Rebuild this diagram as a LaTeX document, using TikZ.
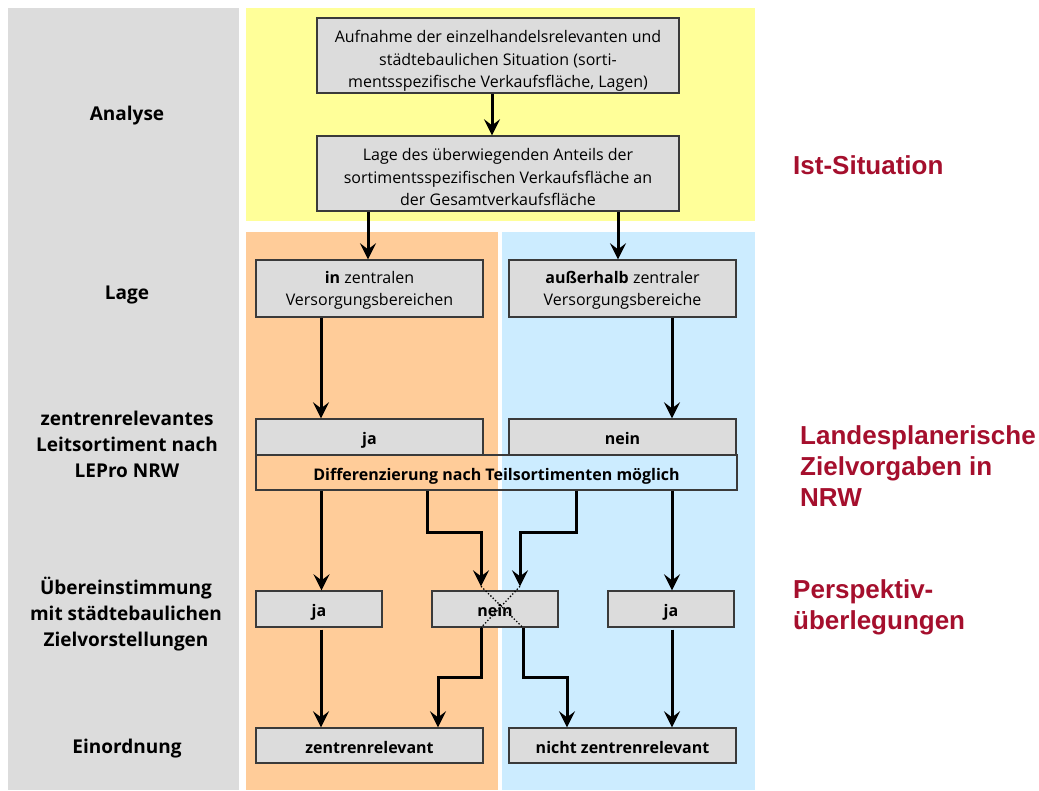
\documentclass[tikz,border=0pt]{standalone}
\usepackage{fontspec}
\setmainfont{Open Sans}
\newfontfamily\redfont{Liberation Sans}
\usetikzlibrary{arrows.meta}
\definecolor{panelgray}{HTML}{DCDCDC}
\definecolor{panelyellow}{HTML}{FFFF99}
\definecolor{panelorange}{HTML}{FFCC99}
\definecolor{panelblue}{HTML}{CCECFF}
\definecolor{boxfill}{HTML}{DCDCDC}
\definecolor{boxline}{HTML}{3A3A3A}
\definecolor{darkred}{HTML}{A50F2D}
\newcommand\boxlines[1]{\begin{tabular}[t]{@{}c@{}}#1\end{tabular}}
\tikzset{
  flowbox/.style={draw=boxline, line width=1.4pt, fill=boxfill, inner sep=0pt,
    font=\fontsize{16}{22.5}\selectfont},
  oneline/.style={text height=15pt, text depth=0pt},
  threelines/.style={text height=15.75pt, text depth=41.35pt},
  twolines/.style={text height=15.75pt, text depth=26.15pt},
  arr/.style={line width=3pt, -{Stealth[length=16pt,width=16pt,inset=6pt]}},
  rowlabel/.style={align=center, font=\fontsize{19}{26}\selectfont\bfseries},
  redlabel/.style={align=left, text=darkred, font=\fontsize{26}{31}\selectfont\redfont\bfseries, inner sep=0pt},
  crossline/.style={line width=1.3pt, dotted, black}
}
\begin{document}
\begin{tikzpicture}[x=1pt,y=-1pt]
\useasboundingbox (0,0) rectangle (1039,790);
% panels
\fill[panelgray] (8,8) rectangle (239,790);
\fill[panelyellow] (246,8) rectangle (755,221);
\fill[panelorange] (246,232) rectangle (498,790);
\fill[panelblue] (502,232) rectangle (755,790);
% row labels
\node[rowlabel] (lAnalyse) at (127,116) {Analyse};
\node[rowlabel] (lLage) at (127,295) {Lage};
\node[rowlabel] (lLeit) at (127,444) {zentrenrelevantes\\Leitsortiment nach\\LEPro NRW};
\node[rowlabel] (lUeber) at (126,614) {Übereinstimmung\\mit städtebaulichen\\Zielvorstellungen};
\node[rowlabel] (lEin) at (127,749) {Einordnung};
% red labels
\node[redlabel, anchor=west] (rIst) at (793,165) {Ist-Situation};
\node[redlabel, anchor=west] (rLand) at (800,466) {Landesplanerische\\Zielvorgaben in\\NRW};
\node[redlabel, anchor=west] (rPersp) at (793,607) {Perspektiv-\\überlegungen};
% boxes
\node[flowbox, threelines, minimum width=362, minimum height=75] (box1) at (498,55.5)
  {\boxlines{Aufnahme der einzelhandelsrelevanten und\\städtebaulichen Situation (sorti-\\mentsspezifische Verkaufsfläche, Lagen)}};
\node[flowbox, threelines, minimum width=362, minimum height=75] (box2) at (498,173.5)
  {\boxlines{Lage des überwiegenden Anteils der\\sortimentsspezifischen Verkaufsfläche an\\der Gesamtverkaufsfläche}};
\node[flowbox, twolines, minimum width=227, minimum height=57] (inbox) at (369.5,288.5)
  {\boxlines{\textbf{in} zentralen\\Versorgungsbereichen}};
\node[flowbox, twolines, minimum width=227, minimum height=57] (ausbox) at (622.5,288.5)
  {\boxlines{\textbf{außerhalb} zentraler\\Versorgungsbereiche}};
\node[flowbox, oneline, minimum width=227, minimum height=36] (ja1) at (369.5,437) {\bfseries ja};
\node[flowbox, oneline, minimum width=227, minimum height=36] (nein1) at (622.5,437) {\bfseries nein};
\node[flowbox, oneline, fill=none, minimum width=481, minimum height=35] (diff) at (496.5,472.5)
  {\bfseries Differenzierung nach Teilsortimenten möglich};
\node[flowbox, oneline, minimum width=126, minimum height=36] (ja2) at (319,609) {\bfseries ja};
\node[flowbox, oneline, minimum width=126, minimum height=36] (nein2) at (495,609) {\bfseries nein};
\node[flowbox, oneline, minimum width=126, minimum height=36] (ja3) at (671,609) {\bfseries ja};
\node[flowbox, oneline, minimum width=227, minimum height=35] (zr) at (369.5,745.5) {\bfseries zentrenrelevant};
\node[flowbox, oneline, minimum width=227, minimum height=35] (nzr) at (622.5,745.5) {\bfseries nicht zentrenrelevant};
% connectors
\draw[arr] ([xshift=-6]box1.south) -- ([xshift=-6]box2.north);
\draw[arr] ([xshift=-1.5]inbox.north |- box2.south) -- ([xshift=-1.5]inbox.north);
\draw[arr] ([xshift=-4.5]ausbox.north |- box2.south) -- ([xshift=-4.5]ausbox.north);
\draw[arr] ([xshift=-48.5]inbox.south) -- ([xshift=-48.5]ja1.north);
\draw[arr] ([xshift=49.5]ausbox.south) -- ([xshift=49.5]nein1.north);
\draw[arr] ([xshift=2.5]ja2.north |- diff.south) -- ([xshift=2.5]ja2.north);
\draw[arr] ([xshift=1]ja3.north |- diff.south) -- ([xshift=1]ja3.north);
\draw[arr] ([xshift=-69.5]diff.south) -- ++(0,42) -| ([xshift=-14,yshift=4]nein2.north);
\draw[arr] ([xshift=79.5]diff.south) -- ++(0,42) -| ([xshift=25,yshift=4]nein2.north);
\draw[crossline] ([xshift=-14,yshift=4]nein2.north) -- ([xshift=28]nein2.south);
\draw[crossline] ([xshift=25,yshift=4]nein2.north) -- ([xshift=-14]nein2.south);
\draw[arr] ([xshift=-14]nein2.south) -- ++(0,50) -| ([xshift=68.5]zr.north);
\draw[arr] ([xshift=28]nein2.south) -- ++(0,50) -| ([xshift=-55.5]nzr.north);
\draw[arr] ([xshift=2,yshift=-2]ja2.south) -- ([xshift=2]ja2.south |- zr.north);
\draw[arr] ([xshift=1,yshift=-2]ja3.south) -- ([xshift=1]ja3.south |- nzr.north);
\end{tikzpicture}
\end{document}
